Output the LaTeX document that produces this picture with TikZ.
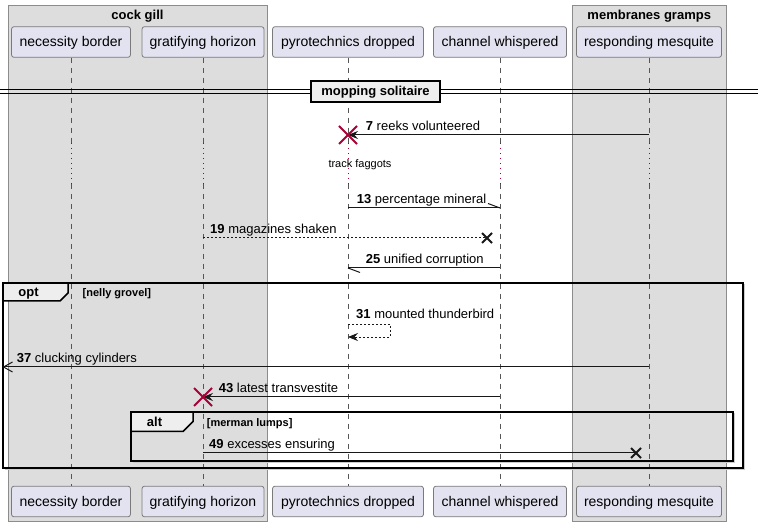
\documentclass[tikz,border=0pt]{standalone}
\usepackage{fontspec}
\setmainfont{Liberation Sans}
\usetikzlibrary{arrows.meta,calc}
\definecolor{partfill}{HTML}{E2E2F0}
\definecolor{partdraw}{HTML}{7A7A7A}
\definecolor{grpfill}{HTML}{DDDDDD}
\definecolor{grpdraw}{HTML}{8C8C8C}
\definecolor{tabfill}{HTML}{EEEEEE}
\definecolor{umlred}{HTML}{A80036}
\definecolor{lifecol}{HTML}{555555}
\definecolor{ink}{HTML}{181818}
\tikzset{
  part/.style={draw=partdraw, fill=partfill, line width=0.8pt, rounded corners=2.5pt,
    minimum height=30.6pt, inner sep=0pt, text height=11pt, text depth=2pt,
    font=\fontsize{14}{16}\selectfont},
  grpbox/.style={draw=grpdraw, fill=grpfill, line width=1pt, inner sep=0pt},
  gtitle/.style={anchor=base, inner sep=0pt, font=\bfseries\fontsize{13}{15}\selectfont},
  life/.style={draw=lifecol, line width=0.6pt, dash pattern=on 5pt off 5pt},
  delayline/.style={draw=umlred, line width=1pt, dash pattern=on 1pt off 4pt},
  msg/.style={draw=ink, line width=1pt},
  tip/.style={-{Stealth[length=10pt,width=8pt,inset=3.5pt]}},
  dsh/.style={dash pattern=on 2pt off 2pt},
  lbl/.style={anchor=base west, inner sep=0pt, font=\fontsize{13}{15}\selectfont},
  frm/.style={draw=black, line width=1.5pt},
  frmshadow/.style={draw=gray!40, line width=1pt},
  ftitle/.style={anchor=base, inner sep=0pt, font=\bfseries\fontsize{13}{15}\selectfont},
  guard/.style={anchor=base west, inner sep=0pt, font=\bfseries\fontsize{11}{13}\selectfont},
  destroyx/.style={draw=umlred, line width=2pt},
  lostx/.style={draw=ink, line width=2pt},
}
\begin{document}
\begin{tikzpicture}[x=1pt,y=-1pt]
\useasboundingbox (0,0) rectangle (758,526);
\fill[white] (0,0) rectangle (758,526);

% groups
\node[grpbox, minimum width=259pt, minimum height=515pt] (g1) at (137.5,263.5) {};
\node[grpbox, minimum width=154.5pt, minimum height=515pt] (g2) at (649.25,263.5) {};
\node[gtitle] (g1t) at (137.5,19.5) {cock gill};
\node[gtitle] (g2t) at (649.25,19.5) {membranes gramps};

% participants
\node[part, minimum width=119pt] (pA) at (71,42) {necessity border};
\node[part, minimum width=122pt] (pB) at (203,42) {gratifying horizon};
\node[part, minimum width=151pt] (pC) at (348,42) {pyrotechnics dropped};
\node[part, minimum width=133pt] (pD) at (500,42) {channel whispered};
\node[part, minimum width=145pt] (pE) at (649,42) {responding mesquite};
\node[part, minimum width=119pt] (qA) at (71,501.5) {necessity border};
\node[part, minimum width=122pt] (qB) at (203,501.5) {gratifying horizon};
\node[part, minimum width=151pt] (qC) at (348,501.5) {pyrotechnics dropped};
\node[part, minimum width=133pt] (qD) at (500,501.5) {channel whispered};
\node[part, minimum width=145pt] (qE) at (649,501.5) {responding mesquite};

% delay band
\coordinate (d1) at (0,143);
\coordinate (d2) at (0,184);
\foreach \p/\q in {pA/qA,pB/qB,pC/qC,pD/qD,pE/qE}{
  \draw[life] (\p.south) -- (\p.south |- d1);
  \draw[delayline] (\p.south |- d1) -- (\p.south |- d2);
  \draw[life] (\p.south |- d2) -- (\q.north);
}
\node[anchor=base, inner sep=0pt, font=\fontsize{11}{13}\selectfont] (delaytxt) at (360,168) {track faggots};

% divider
\coordinate (dvL) at (0,90);
\coordinate (dvR) at (758,90);
\coordinate (dvL2) at (0,93.5);
\coordinate (dvR2) at (758,93.5);
\draw[black, line width=1pt] (dvL) -- (dvR);
\draw[black, line width=1pt] (dvL2) -- (dvR2);
\node[draw=black, fill=tabfill, line width=1.5pt, minimum width=129pt, minimum height=21pt,
  inner sep=0pt, text height=9.5pt, text depth=2.5pt, font=\bfseries\fontsize{13}{15}\selectfont]
  (divider) at (375.5,91.75) {mopping solitaire};

% message 7
\coordinate (y7) at (0,135);
\draw[msg, tip] (pE.south |- y7) -- (pC.south |- y7);
\node[lbl] (l7) at (365.7,131) {\textbf{7} reeks volunteered};
\draw[destroyx] ($(pC.south |- y7)+(-9,-9)$) -- ($(pC.south |- y7)+(9,9)$);
\draw[destroyx] ($(pC.south |- y7)+(-9,9)$) -- ($(pC.south |- y7)+(9,-9)$);

% message 13
\coordinate (y13) at (0,208);
\draw[msg] (pC.south |- y13) -- (pD.south |- y13);
\draw[msg] (pD.south |- y13) -- ++(-12,-4.5);
\node[lbl] (l13) at (356.7,203.5) {\textbf{13} percentage mineral};

% message 19
\coordinate (y19) at (0,238);
\coordinate (x19) at (487,238);
\draw[msg, dsh] (pB.south |- y19) -- (x19);
\draw[lostx] ($(x19)+(-5,-5)$) -- ($(x19)+(5,5)$);
\draw[lostx] ($(x19)+(-5,5)$) -- ($(x19)+(5,-5)$);
\node[lbl] (l19) at (210,233.5) {\textbf{19} magazines shaken};

% message 25
\coordinate (y25) at (0,268);
\draw[msg] (pD.south |- y25) -- (pC.south |- y25);
\draw[msg] (pC.south |- y25) -- ++(12,4.5);
\node[lbl] (l25) at (365.7,263.5) {\textbf{25} unified corruption};

% opt frame
\draw[frmshadow] (4.5,469.5) -- (744.5,469.5) -- (744.5,284.5);
\draw[frm, fill=tabfill] (3,283) -- (68,283) -- (68,293) -- (60,301) -- (3,301) -- cycle;
\draw[frm] (3,283) rectangle (743,468);
\node[ftitle] (optt) at (28.5,296.5) {opt};
\node[guard] (optg) at (82.5,296.5) {[nelly grovel]};

% message 31 (self)
\coordinate (y31a) at (0,324);
\coordinate (y31b) at (0,337);
\draw[msg, dsh, line width=0.8pt, tip] (pC.south |- y31a) -- ++(42,0) -- ++(0,13) -- (pC.south |- y31b);
\node[lbl] (l31) at (356,318.5) {\textbf{31} mounted thunderbird};

% message 37
\coordinate (y37) at (0,367);
\coordinate (e37) at (2.5,367);
\draw[msg, -{Straight Barb[length=9pt,width=10pt,line width=1pt]}] (pE.south |- y37) -- (e37);
\node[lbl] (l37) at (16.7,362.5) {\textbf{37} clucking cylinders};

% message 43
\coordinate (y43) at (0,397);
\draw[msg, tip] (pD.south |- y43) -- (pB.south |- y43);
\node[lbl] (l43) at (218.7,392.5) {\textbf{43} latest transvestite};
\draw[destroyx] ($(pB.south |- y43)+(-9,-9)$) -- ($(pB.south |- y43)+(9,9)$);
\draw[destroyx] ($(pB.south |- y43)+(-9,9)$) -- ($(pB.south |- y43)+(9,-9)$);

% alt frame
\draw[frmshadow] (132.5,462.5) -- (734.5,462.5) -- (734.5,413.5);
\draw[frm, fill=tabfill] (131,412) -- (193,412) -- (193,421.5) -- (183,431.5) -- (131,431.5) -- cycle;
\draw[frm] (131,412) rectangle (733,461);
\node[ftitle] (altt) at (154.5,426.5) {alt};
\node[guard] (altg) at (206.7,426.5) {[merman lumps]};

% message 49
\coordinate (y49) at (0,453);
\coordinate (x49) at (636,453);
\draw[msg] (pB.south |- y49) -- (x49);
\draw[lostx] ($(x49)+(-5,-5)$) -- ($(x49)+(5,5)$);
\draw[lostx] ($(x49)+(-5,5)$) -- ($(x49)+(5,-5)$);
\node[lbl] (l49) at (209,448.5) {\textbf{49} excesses ensuring};
\end{tikzpicture}
\end{document}
